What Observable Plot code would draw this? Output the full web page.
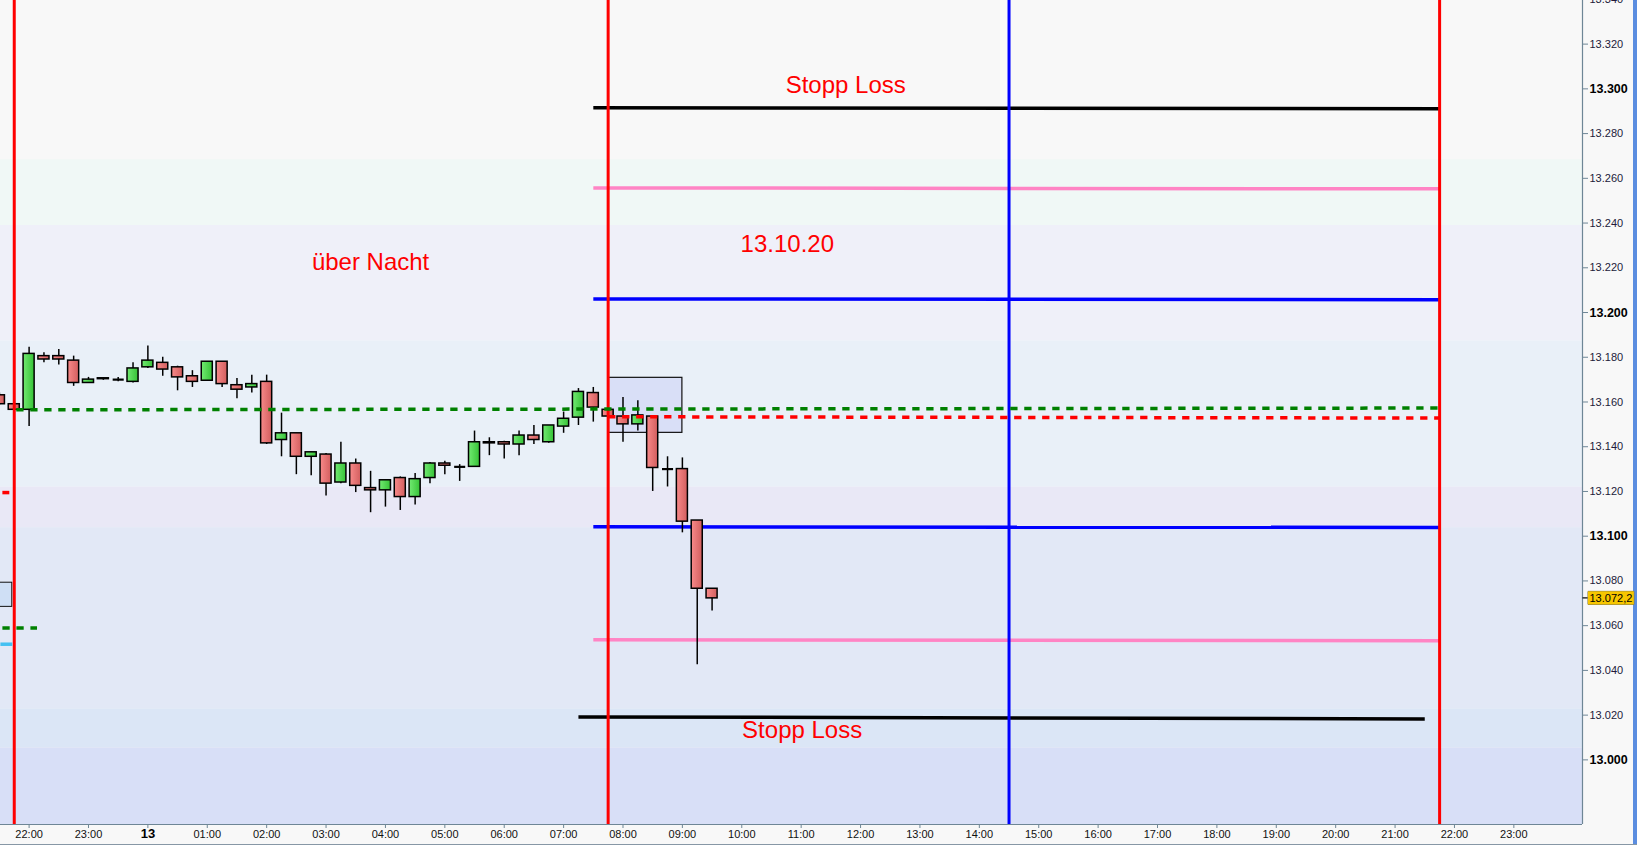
<!DOCTYPE html>
<html><head><meta charset="utf-8">
<script src="https://cdn.jsdelivr.net/npm/d3@7"></script>
<script src="https://cdn.jsdelivr.net/npm/@observablehq/plot@0.6"></script>
<style>
html,body{margin:0;padding:0;background:#f8f8f8;}
#wrap{position:relative;width:1637px;height:845px;overflow:hidden;background:#f8f8f8;}
#rb{position:absolute;right:0;top:0;width:4px;height:845px;background:#5b8de0;}
#bb{position:absolute;left:0;bottom:0;width:1637px;height:1px;background:#8797a5;}
svg{position:absolute;left:0;top:0;}
</style></head><body><div id="wrap"><div id="rb"></div><div id="bb"></div></div>
<script>
// ---------- DATA ----------
const candleTimes = ["12 21:30","12 21:45","12 22:00","12 22:15","12 22:30","12 22:45","12 23:00","12 23:15","12 23:30","12 23:45",
"13 00:00","13 00:15","13 00:30","13 00:45","13 01:00","13 01:15","13 01:30","13 01:45","13 02:00","13 02:15",
"13 02:30","13 02:45","13 03:00","13 03:15","13 03:30","13 03:45","13 04:00","13 04:15","13 04:30","13 04:45",
"13 05:00","13 05:15","13 05:30","13 05:45","13 06:00","13 06:15","13 06:30","13 06:45","13 07:00","13 07:15",
"13 07:30","13 07:45","13 08:00","13 08:15","13 08:30","13 08:45","13 09:00","13 09:15","13 09:30"];
const candleOpen = [13163,13159,13156.5,13180.5,13180.5,13178.5,13168.5,13170.2,13170,13169,13175.5,13177.5,13175.5,13171.5,13169.5,13178,13167.5,13166.5,13169,13143,13146,13135.5,13136.5,13124,13132.5,13121.5,13120.5,13126,13117.5,13126,13132.5,13131,13131,13142,13142,13141,13145,13142,13149,13153,13164,13156.5,13153.5,13150,13153.5,13130,13130,13107,13076.5];
const candleHigh = [13164,13160,13184.5,13182,13183.5,13180.5,13171,13170.8,13171,13177.5,13185,13180,13176,13174,13178,13178,13170.5,13172,13172,13155,13146,13137.5,13137,13142,13134.5,13129,13125,13126.5,13128,13133,13133.5,13132,13147,13144,13142.5,13147,13149.5,13149.5,13155.5,13166,13166.5,13157,13162,13160.5,13153.5,13135.5,13135,13107,13076.5];
const candleLow = [13158.5,13156,13149,13177.5,13176.5,13167,13168.5,13169.7,13169,13168.5,13175,13171.5,13165,13166.5,13169.5,13166.5,13161.5,13164,13141,13135.5,13127.5,13127,13118,13123.5,13119.5,13110.5,13113,13111.5,13114,13123.5,13127.5,13124.5,13131,13136,13134.5,13136,13141,13141.5,13146,13149.5,13151,13153,13142,13147,13120,13122,13101.5,13042.5,13066.5];
const candleClose = [13159,13156.5,13181.5,13179,13179,13168.5,13170,13170.6,13170,13175,13178.5,13174.5,13171,13169,13178,13168,13165.5,13168,13141.5,13146,13135.5,13137.5,13123.5,13132.5,13122.5,13120.5,13125,13117.5,13125.5,13132.5,13131.5,13131,13142,13141.5,13141,13145,13143,13149.5,13152.5,13164.5,13157.5,13153.5,13150,13154,13130.5,13130,13106.5,13076.5,13072.2];

const lastPrice = 13072.2;
const lastPriceLabel = "13.072,2";

const yTicks = [13000,13020,13040,13060,13080,13100,13120,13140,13160,13180,13200,13220,13240,13260,13280,13300,13320,13340];
const xTickTimes = ["12 22:00","12 23:00","13 00:00","13 01:00","13 02:00","13 03:00","13 04:00","13 05:00","13 06:00","13 07:00","13 08:00","13 09:00","13 10:00","13 11:00","13 12:00","13 13:00","13 14:00","13 15:00","13 16:00","13 17:00","13 18:00","13 19:00","13 20:00","13 21:00","13 22:00","13 23:00"];
const xTickLabels = ["22:00","23:00","13","01:00","02:00","03:00","04:00","05:00","06:00","07:00","08:00","09:00","10:00","11:00","12:00","13:00","14:00","15:00","16:00","17:00","18:00","19:00","20:00","21:00","22:00","23:00"];

// background zones (price bands)
const bandLow  = [13268.3,13238.9,13187.2,13121.9,13103.8,13022.8,13005.2,12960];
const bandHigh = [13350,13268.3,13238.9,13187.2,13121.9,13103.8,13022.8,13005.2];

// session lines
const redSessionTimes = ["12 21:45","13 07:45","13 21:45"];
const blueSessionTimes = ["13 14:30"];

// horizontal levels: [from, to, value at start, value at end]
const stopLossLevels = [["13 07:30","13 21:45",13291.5,13291.1],["13 07:15","13 21:30",13019.2,13018.3]];
const pinkLevels = [["13 07:30","13 21:45",13255.7,13255.3],["13 07:30","13 21:45",13053.7,13053.3]];
const blueLevels = [["13 07:30","13 21:45",13206.1,13205.7],["13 07:30","13 21:45",13104.2,13103.9]];
const greenDottedLevels = [["12 21:45","13 21:45",13156.5,13157.3],["12 21:31","12 22:08",13058.9,13058.9]];
const redDottedLevels = [["13 07:45","13 21:45",13153.4,13152.8]];
const redDashLeft = [["12 21:33","12 21:40",13119.5,13119.5]];
const cyanLevelLeft = [["12 21:31","12 21:43",13051.7,13051.7]];

// boxes: [from, to, low, high]
const openingBox = [["13 07:45","13 09:00",13146.2,13170.8]];
const leftBox = [["12 21:00","12 21:43",13068.4,13079.2]];

// annotations
const noteTexts = ["Stopp Loss","13.10.20","über Nacht","Stopp Loss"];
const noteTimes = ["13 11:45","13 10:46","13 03:45","13 11:01"];
const noteValues = [13301.8,13230.7,13222.5,13013.4];

// ---------- HELPERS ----------
function toH(s){const [d,t]=s.split(" ");const [hh,mm]=t.split(":").map(Number);return (+d-12)*24+hh+mm/60-22;}
const xDomain = [-0.4816, 26.156];
const yDomain = [12971.1, 13339.5];
const fmtDE = v => { const s = Math.round(v).toString(); return s.slice(0, s.length-3) + "." + s.slice(-3); };

const bandFill = ["#f8f8f8","#f0f8f6","#eff0f9","#e9f0f8","#e9e8f6","#e2e8f6","#dbe6f6","#d8dff7"];
const bands = bandLow.map((lo,i)=>({lo, hi: bandHigh[i], fill: bandFill[i]}));

const candles = candleTimes.map((t,i)=>({h: toH(t), o: candleOpen[i], hi: candleHigh[i], lo: candleLow[i], c: candleClose[i]}));
const upC = candles.filter(d=>d.c>d.o);
const downC = candles.filter(d=>d.c<d.o);
const dojiC = candles.filter(d=>d.c===d.o);
const HW = 0.093;

const seg = arr => arr.map(([a,b,v1,v2])=>({x1: toH(a), x2: toH(b), y1: v1, y2: v2}));
const box = arr => arr.map(([a,b,lo,hi])=>({x1: toH(a), x2: toH(b), y1: lo, y2: hi}));
const linkOpts = (stroke, w, extra={}) => ({x1:"x1", x2:"x2", y1:"y1", y2:"y2", stroke, strokeWidth: w, strokeLinecap:"butt", clip:true, ...extra});

const xTicks = xTickTimes.map((t,i)=>({h: toH(t), label: xTickLabels[i]}));
const notes = noteTexts.map((t,i)=>({text:t, h: toH(noteTimes[i]), v: noteValues[i]}));
const axisColor = "#6e8696";

const plot = Plot.plot({
  width: 1637, height: 845,
  marginLeft: 0, marginRight: 55, marginTop: 0, marginBottom: 21,
  style: {background: "transparent", fontFamily: "'Liberation Sans', Arial, sans-serif", fontSize: "11px", overflow: "visible"},
  x: {type: "linear", domain: xDomain},
  y: {type: "linear", domain: yDomain},
  color: {type: "identity"},
  marks: [
    Plot.rect(bands, {x1: () => xDomain[0], x2: () => xDomain[1], y1: "lo", y2: "hi", fill: "fill", clip: true}),
    Plot.rect(box(leftBox), {x1:"x1", x2:"x2", y1:"y1", y2:"y2", fill: "#cfdff5", stroke: "#111", strokeWidth: 1, clip: true}),
    Plot.rect(box(openingBox), {x1:"x1", x2:"x2", y1:"y1", y2:"y2", fill: "#d9dff7", stroke: "#111", strokeWidth: 1.2}),
    Plot.link(seg(stopLossLevels), linkOpts("#000", 3.5)),
    Plot.link(seg(pinkLevels), linkOpts("#ff84c4", 3.5)),
    Plot.link(seg(blueLevels), linkOpts("#0000ff", 3.5)),
    // candles
    Plot.ruleX(candles, {x: "h", y1: "lo", y2: "hi", stroke: "#000", strokeWidth: 1.5, clip: true}),
    Plot.rect(upC, {x1: d=>d.h-HW, x2: d=>d.h+HW, y1: "o", y2: "c", fill: "url(#gGreen)", stroke: "#000", strokeWidth: 1.5, clip: true}),
    Plot.rect(downC, {x1: d=>d.h-HW, x2: d=>d.h+HW, y1: "c", y2: "o", fill: "url(#gRed)", stroke: "#000", strokeWidth: 1.5, clip: true}),
    Plot.link(dojiC, {x1: d=>d.h-HW, x2: d=>d.h+HW, y1: "o", y2: "c", stroke: "#000", strokeWidth: 2.2}),
    // session lines
    Plot.ruleX(redSessionTimes.map(toH), {stroke: "#ff0000", strokeWidth: 3}),
    Plot.ruleX(blueSessionTimes.map(toH), {stroke: "#0000ff", strokeWidth: 3}),
    // dotted levels
    Plot.link(seg(greenDottedLevels), linkOpts("#008000", 3.5, {strokeDasharray: "7.3,6.7", strokeDashoffset: -2})),
    Plot.link(seg(redDottedLevels), linkOpts("#ff0000", 3.5, {strokeDasharray: "7.3,6.7"})),
    Plot.link(seg(redDashLeft), linkOpts("#ff0000", 3.5)),
    Plot.link(seg(cyanLevelLeft), linkOpts("#44c0f2", 3.5)),
    // annotations
    Plot.text(notes, {x: "h", y: "v", text: "text", fill: "#ff0000", fontSize: 24, fontFamily: "'Liberation Sans', Arial, sans-serif", textAnchor: "middle"}),
    // axes lines
    Plot.ruleX([xDomain[1]], {stroke: axisColor, strokeWidth: 1.2}),
    Plot.ruleY([yDomain[0]], {stroke: axisColor, strokeWidth: 1.2}),
    Plot.axisY({anchor: "right", ticks: yTicks, tickSize: 5, tickFormat: () => "", label: null, stroke: axisColor}),
    Plot.axisX({anchor: "bottom", ticks: xTicks.map(d=>d.h), tickSize: 4, tickFormat: () => "", label: null, stroke: axisColor}),
    Plot.text(yTicks.filter(v=>v%100!==0), {y: d=>d, text: fmtDE, frameAnchor: "right", dx: 7, textAnchor: "start", fill: "#221a3a", fontSize: 11}),
    Plot.text(yTicks.filter(v=>v%100===0), {y: d=>d, text: fmtDE, frameAnchor: "right", dx: 7, textAnchor: "start", fill: "#000", fontSize: 12.5, fontWeight: "bold"}),
    Plot.text(xTicks.filter(d=>d.label!=="13"), {x: "h", text: "label", frameAnchor: "bottom", dy: 13, fill: "#111", fontSize: 11}),
    Plot.text(xTicks.filter(d=>d.label==="13"), {x: "h", text: "label", frameAnchor: "bottom", dy: 13, fill: "#000", fontSize: 13, fontWeight: "bold"}),
    // last price tag: yellow box drawn as a text-sized highlight (█ glyph background) then label
    Plot.text([lastPrice], {y: d=>d, text: () => lastPriceLabel, frameAnchor: "right", dx: 7, textAnchor: "start", fill: "#000", fontSize: 11, stroke: "#f7c600", strokeWidth: 0})
  ]
});

document.getElementById("wrap").appendChild(plot);

// gradient definitions for candle bodies
const ns = "http://www.w3.org/2000/svg";
const defs = document.createElementNS(ns, "defs");
defs.innerHTML = `
<linearGradient id="gRed" x1="0" x2="1" y1="0" y2="0"><stop offset="0" stop-color="#f88a8a"/><stop offset="1" stop-color="#d25e5e"/></linearGradient>
<linearGradient id="gGreen" x1="0" x2="1" y1="0" y2="0"><stop offset="0" stop-color="#72ea72"/><stop offset="1" stop-color="#36c236"/></linearGradient>`;
plot.insertBefore(defs, plot.firstChild);

// yellow box behind last price label + its black tick
const tag = Array.from(plot.querySelectorAll("text")).find(t => t.textContent === lastPriceLabel);
if (tag) {
  const bb = tag.getBBox();
  const w = bb.width > 0 ? bb.width : 43, h = bb.height > 0 ? bb.height : 13;
  const r = document.createElementNS(ns, "rect");
  r.setAttribute("x", bb.x - 1.5); r.setAttribute("y", bb.y - 0.5);
  r.setAttribute("width", w + 3); r.setAttribute("height", h + 1);
  r.setAttribute("fill", "#f7c600"); r.setAttribute("stroke", "#7d7030"); r.setAttribute("stroke-width", "1");
  const tr = tag.getAttribute("transform"); if (tr) r.setAttribute("transform", tr);
  ["x","y"].forEach(a => { if (tag.hasAttribute(a) && !tr) r.setAttribute(a, (+tag.getAttribute(a)) + (a==="x" ? -1.5 : 0) + (a==="y" ? bb.y - 0.5 : 0)); });
  tag.parentNode.insertBefore(r, tag);
  const ln = document.createElementNS(ns, "line");
  ln.setAttribute("x1", -7); ln.setAttribute("x2", -2); ln.setAttribute("y1", bb.y + h/2); ln.setAttribute("y2", bb.y + h/2);
  ln.setAttribute("stroke", "#000"); ln.setAttribute("stroke-width", "1.2");
  if (tr) ln.setAttribute("transform", tr);
  tag.parentNode.insertBefore(ln, tag);
}
</script></body></html>
